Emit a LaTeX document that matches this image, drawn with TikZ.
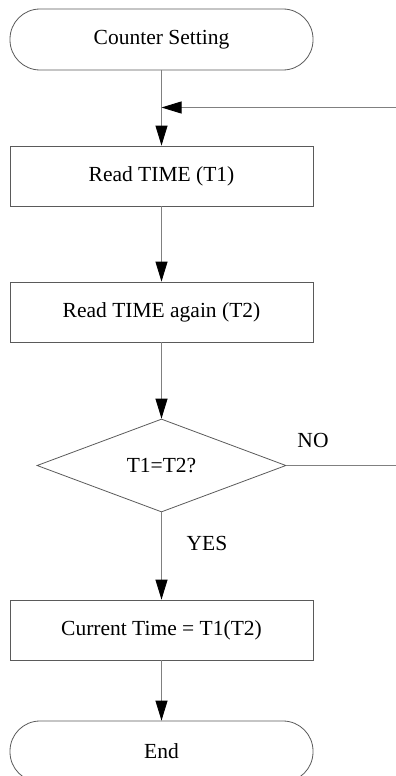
\documentclass[tikz,border=0pt]{standalone}
\usepackage{fontspec}
\setmainfont{Liberation Serif}
\usetikzlibrary{arrows.meta,shapes.geometric}
\definecolor{fcline}{RGB}{128,128,128}
\definecolor{fcedge}{RGB}{90,90,90}

\tikzset{
  fcbox/.style={draw=fcedge,line width=0.8pt,minimum width=303pt,minimum height=60pt,inner sep=0pt,font=\fontsize{21.5}{25}\selectfont},
  fcterm/.style={fcbox,minimum height=61pt,rounded corners=30pt},
  fcdecide/.style={draw=fcedge,line width=0.8pt,diamond,minimum width=249pt,minimum height=93pt,inner sep=0pt,font=\fontsize{21.5}{25}\selectfont},
  fcflow/.style={draw=fcline,line width=0.9pt,-{Triangle[length=20pt,width=12pt,color=black,fill=black]}},
  fclabel/.style={font=\fontsize{21.5}{25}\selectfont}
}

\begin{document}
\begin{tikzpicture}[x=1pt,y=-1pt]
\useasboundingbox (0,0) rectangle (396,776);
\node[fcterm] (start) at (161.5,39.5) {Counter Setting};
\node[fcbox] (readA) at (161.5,176) {Read TIME (T1)};
\node[fcbox] (readB) at (161.5,312) {Read TIME again (T2)};
\node[fcdecide] (check) at (161.5,465.5) {T1=T2?};
\node[fcbox] (now) at (161.5,630) {Current Time = T1(T2)};
\node[fcterm] (finish) at (161.5,751.5) {End};
\coordinate (join) at (161.5,107.5);
\coordinate (loopin) at (396,107.5);
\coordinate (noend) at (396,465.5);
% main flow
\draw[fcflow] (start.south) -- (readA.north);
\draw[fcflow] (loopin) -- (join);
\draw[fcflow] (readA.south) -- (readB.north);
\draw[fcflow] (readB.south) -- (check.north);
\draw[fcflow] (check.south) -- (now.north);
\draw[fcflow] (now.south) -- (finish.north);
% NO branch
\draw[draw=fcline,line width=0.9pt] (check.east) -- (noend);
\node[fclabel] (nolabel) at (313,440) {NO};
\node[fclabel] (yeslabel) at (207,543) {YES};
\end{tikzpicture}
\end{document}
